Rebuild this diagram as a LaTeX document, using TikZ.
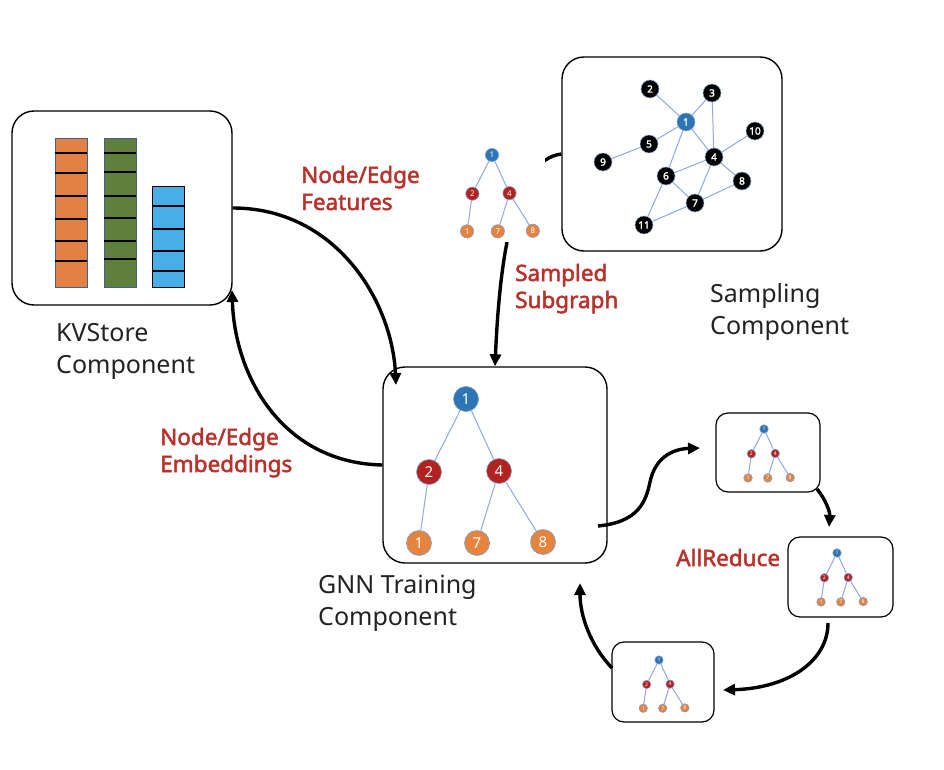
\documentclass[tikz,border=0pt]{standalone}
\usepackage{fontspec}
\setmainfont{Noto Sans}[BoldFont={Noto Sans},BoldFeatures={FakeBold=2.2}]
\usetikzlibrary{arrows.meta}
\definecolor{kvorange}{HTML}{E38043}
\definecolor{kvgreen}{HTML}{5F7F3C}
\definecolor{kvblue}{HTML}{47AEE8}
\definecolor{kvedge}{HTML}{44608A}
\definecolor{nblue}{HTML}{2E75B6}
\definecolor{nred}{HTML}{B2221F}
\definecolor{norange}{HTML}{E6843E}
\definecolor{nborder}{HTML}{7E9CCB}
\definecolor{gedgec}{HTML}{8EA9DB}
\definecolor{labred}{HTML}{B8312A}
\definecolor{comptext}{HTML}{222222}
\begin{document}
\begin{tikzpicture}[x=1pt,y=-1pt,
  panel/.style={draw=black,line width=1.4pt,fill=white,rounded corners=22pt,inner sep=0pt},
  minipanel/.style={draw=black,line width=1.2pt,fill=white,rounded corners=12pt,inner sep=0pt},
  flow/.style={line width=3.4pt,-{Triangle[length=12pt,width=11pt]}},
  redlab/.style={anchor=base west,align=left,inner sep=0pt,text=labred,font=\bfseries\fontsize{22.5}{27}\selectfont},
  complab/.style={anchor=base west,align=left,inner sep=0pt,text=comptext,font=\fontsize{25}{32}\selectfont},
  tn/.style={circle,inner sep=0pt,minimum size=25pt,draw=nborder,line width=0.6pt,text=white,font=\fontsize{15}{15}\selectfont},
  tblue/.style={tn,fill=nblue},
  tred/.style={tn,fill=nred},
  torange/.style={tn,fill=norange},
  gedge/.style={draw=gedgec,line width=1pt},
  sn/.style={circle,inner sep=0pt,minimum size=18pt,fill=black,draw=gedgec,line width=0.5pt,text=white,font=\bfseries\fontsize{10}{10}\selectfont},
  gtree/.pic={
    \node[tblue] (-a) at (0,0) {1};
    \node[tred] (-b) at (-37,73) {2};
    \node[tred] (-c) at (33,72) {4};
    \node[torange] (-d) at (-47,144) {1};
    \node[torange] (-e) at (11,144) {7};
    \node[torange] (-f) at (77,143) {8};
    \draw[gedge] (-a)--(-b) (-a)--(-c) (-b)--(-d) (-c)--(-e) (-c)--(-f);
  }
]
\useasboundingbox (0,0) rectangle (944,770);

% panels
\node[panel,minimum width=220pt,minimum height=194pt] (kv) at (122,208) {};
\node[panel,minimum width=220pt,minimum height=194pt] (smp) at (672,154) {};
\node[panel,minimum width=224pt,minimum height=196pt] (tr) at (495,465) {};
\node[minipanel,minimum width=104pt,minimum height=79pt] (bA) at (768,452.5) {};
\node[minipanel,minimum width=105pt,minimum height=80pt] (bB) at (840.5,577) {};
\node[minipanel,minimum width=102pt,minimum height=80pt] (bC) at (663,682) {};

% KVStore columns
\node[draw=kvedge,line width=0.8pt,fill=kvorange,inner sep=0pt,minimum width=32pt,minimum height=149pt] (colo) at (71,212.5) {};
\node[draw=kvedge,line width=0.8pt,fill=kvgreen,inner sep=0pt,minimum width=32pt,minimum height=149pt] (colg) at (120,212.5) {};
\node[draw=black,line width=0.8pt,fill=kvblue,inner sep=0pt,minimum width=32pt,minimum height=101pt] (colb) at (168,236.5) {};
\foreach \y in {153,173,196,219,241,261} \draw[line width=2.6pt] (55,\y) -- (87,\y);
\foreach \y in {153,172,196,218,241,259} \draw[line width=2.6pt] (104,\y) -- (136,\y);
\foreach \y in {206,229,251,271} \draw[line width=2.6pt] (152,\y) -- (184,\y);

% sampling graph
\node[sn,fill=nblue] (s1) at (686,122) {1};
\node[sn] (s2) at (650,89) {2};
\node[sn] (s3) at (712,93) {3};
\node[sn] (s4) at (714,157) {4};
\node[sn] (s5) at (649,144) {5};
\node[sn] (s6) at (666,176) {6};
\node[sn] (s7) at (695,203) {7};
\node[sn] (s8) at (742,181) {8};
\node[sn] (s9) at (603,162) {9};
\node[sn] (s10) at (755,131) {10};
\node[sn] (s11) at (644,225) {11};
\draw[gedge] (s2)--(s1) (s3)--(s1) (s3)--(s4) (s1)--(s4) (s1)--(s5) (s5)--(s9)
  (s1)--(s6) (s4)--(s10) (s4)--(s6) (s4)--(s8) (s4)--(s7) (s6)--(s7)
  (s6)--(s11) (s11)--(s7) (s7)--(s8);

% connectors
\coordinate (a1end) at (396,385);
\coordinate (a2end) at (232,290);
\coordinate (a4start) at (598,526);
\coordinate (a4end) at (700,448);
\coordinate (a5start) at (817,489);
\coordinate (a5end) at (829,527);
\coordinate (a6start) at (828,623);
\coordinate (a6end) at (723,690);
\coordinate (a7start) at (612,668);
\coordinate (a7end) at (580,583);

\draw[flow] (kv.east) .. controls (335,208) and (392,300) .. (a1end);
\draw[flow] (tr.west) .. controls (285,463) and (235,380) .. (a2end);
\draw[flow] (smp.west) .. controls (515,160) and (500,250) .. (tr.north);
\draw[flow] (a4start) .. controls (640,522) and (646,500) .. (650,482)
   .. controls (655,458) and (672,449) .. (a4end);
\draw[flow] (a5start) .. controls (826,500) and (830,512) .. (a5end);
\draw[flow] (a6start) .. controls (828,660) and (790,688) .. (a6end);
\draw[flow] (a7start) .. controls (590,645) and (580,615) .. (a7end);

% sampled subgraph picture (white backdrop)
\node[fill=white,inner sep=0pt,minimum width=90pt,minimum height=102pt] (subbg) at (500,191) {};

% trees
\pic (T) at (466,399) {gtree};
\pic[scale=0.53,transform shape] (S) at (492,155) {gtree};
\pic[scale=0.34,transform shape] (A) at (764,429) {gtree};
\pic[scale=0.34,transform shape] (B) at (837,553) {gtree};
\pic[scale=0.335,transform shape] (C) at (659,660) {gtree};

% labels (base anchor = baseline of last line)
\node[redlab] (lfeat) at (301,210) {Node/Edge\\Features};
\node[redlab] (lsub) at (515,308) {Sampled\\Subgraph};
\node[redlab] (lemb) at (160,472) {Node/Edge\\Embeddings};
\node[redlab] (lall) at (676,566) {AllReduce};
\node[complab] (ckv) at (56,373) {KVStore\\Component};
\node[complab] (csmp) at (710,334) {Sampling\\Component};
\node[complab] (ctr) at (318,625) {GNN Training\\Component};
\end{tikzpicture}
\end{document}
